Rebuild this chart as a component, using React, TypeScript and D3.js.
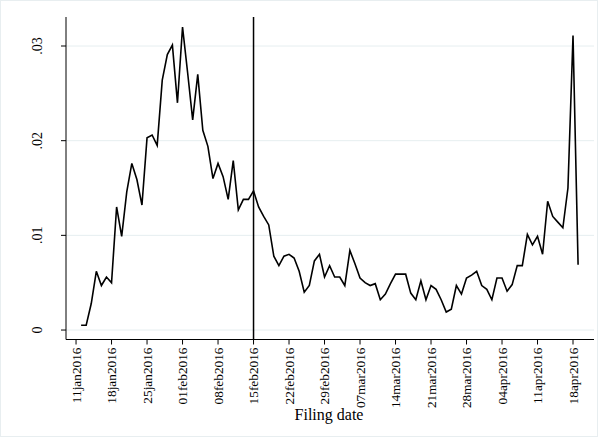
import React from 'react';
import * as d3 from 'd3';

const startDate = '2016-01-12';
const series = [
  0.0005, 0.0005, 0.0028, 0.0062, 0.0047, 0.0056, 0.0050, 0.0130, 0.0099, 0.0146,
  0.0176, 0.0159, 0.0132, 0.0203, 0.0206, 0.0195, 0.0264, 0.0291, 0.0301, 0.0240,
  0.0320, 0.0272, 0.0222, 0.0270, 0.0211, 0.0194, 0.0160, 0.0176, 0.0162, 0.0138,
  0.0179, 0.0127, 0.0138, 0.0138, 0.0147, 0.0130, 0.0120, 0.0111, 0.0078, 0.0068,
  0.0078, 0.0080, 0.0076, 0.0062, 0.0040, 0.0047, 0.0073, 0.0080, 0.0056, 0.0068,
  0.0056, 0.0056, 0.0047, 0.0084, 0.0070, 0.0055, 0.0050, 0.0047, 0.0049, 0.0032,
  0.0038, 0.0049, 0.0059, 0.0059, 0.0059, 0.0039, 0.0032, 0.0052, 0.0032, 0.0047,
  0.0043, 0.0032, 0.0019, 0.0022, 0.0047, 0.0038, 0.0055, 0.0058, 0.0062, 0.0047,
  0.0043, 0.0032, 0.0055, 0.0055, 0.0041, 0.0048, 0.0068, 0.0068, 0.0101, 0.0090,
  0.0099, 0.0080, 0.0136, 0.0120, 0.0114, 0.0108, 0.0150, 0.0311, 0.0069,
];

const xTickDates = [
  '2016-01-11', '2016-01-18', '2016-01-25', '2016-02-01', '2016-02-08',
  '2016-02-15', '2016-02-22', '2016-02-29', '2016-03-07', '2016-03-14',
  '2016-03-21', '2016-03-28', '2016-04-04', '2016-04-11', '2016-04-18',
];
const xTickLabels = [
  '11jan2016', '18jan2016', '25jan2016', '01feb2016', '08feb2016',
  '15feb2016', '22feb2016', '29feb2016', '07mar2016', '14mar2016',
  '21mar2016', '28mar2016', '04apr2016', '11apr2016', '18apr2016',
];
const yTicks = [0, 0.01, 0.02, 0.03];
const yTickLabels = ['0', '.01', '.02', '.03'];
const eventDate = '2016-02-15';
const xTitle = 'Filing date';
const xDomain = ['2016-01-09', '2016-04-22'];
const yDomain = [-0.001, 0.033];

const W = 601;
const H = 440;
const FONT = '"Liberation Serif", "Times New Roman", serif';

const parse = (s: string) => new Date(s + 'T00:00:00Z');

export default function App() {
  const x = d3.scaleUtc().domain(xDomain.map(parse)).range([65.9, 593.3]);
  const y = d3.scaleLinear().domain(yDomain).range([339.5, 17.6]);
  const plotLeft = 66;
  const plotRight = 594;
  const plotTop = 17;
  const plotBottom = 339.5;

  const start = parse(startDate);
  const data = series.map((v, i) => ({ date: d3.utcDay.offset(start, i), v }));
  const line = d3
    .line<{ date: Date; v: number }>()
    .x((d) => x(d.date))
    .y((d) => y(d.v));

  const ex = x(parse(eventDate));

  return (
    <svg
      width={W}
      height={H}
      style={{ position: 'absolute', left: 0, top: 0, background: '#fff' }}
      fontFamily={FONT}
    >
      <rect x={0.5} y={0.5} width={W - 4} height={H - 4} fill="#fff" stroke="#e8eef0" strokeWidth={1} />
      {yTicks.map((t) => (
        <line key={'g' + t} x1={plotLeft} x2={plotRight} y1={y(t)} y2={y(t)} stroke="#e6eef0" strokeWidth={1} />
      ))}
      <line x1={plotLeft} x2={plotLeft} y1={plotTop} y2={plotBottom} stroke="#000" strokeWidth={1} />
      <line x1={plotLeft} x2={plotRight} y1={plotBottom} y2={plotBottom} stroke="#000" strokeWidth={1} />
      {yTicks.map((t, i) => (
        <g key={'y' + t}>
          <line x1={plotLeft - 5} x2={plotLeft} y1={y(t)} y2={y(t)} stroke="#000" strokeWidth={1} />
          <text
            transform={`translate(${41.5},${y(t)}) rotate(-90)`}
            textAnchor="middle"
            fontSize={14}
            fill="#000"
          >
            {yTickLabels[i]}
          </text>
        </g>
      ))}
      {xTickDates.map((d, i) => {
        const px = x(parse(d));
        return (
          <g key={d}>
            <line x1={px} x2={px} y1={plotBottom} y2={plotBottom + 5} stroke="#000" strokeWidth={1} />
            <text
              transform={`translate(${px + 4.6},${plotBottom + 8}) rotate(-90)`}
              textAnchor="end"
              fontSize={13.3}
              fill="#000"
            >
              {xTickLabels[i]}
            </text>
          </g>
        );
      })}
      <text x={329} y={420} textAnchor="middle" fontSize={16} fill="#000">
        {xTitle}
      </text>
      <line x1={ex} x2={ex} y1={plotTop} y2={plotBottom} stroke="#000" strokeWidth={1.5} />
      <path d={line(data) || ''} fill="none" stroke="#000" strokeWidth={1.6} strokeLinejoin="miter" />
    </svg>
  );
}
